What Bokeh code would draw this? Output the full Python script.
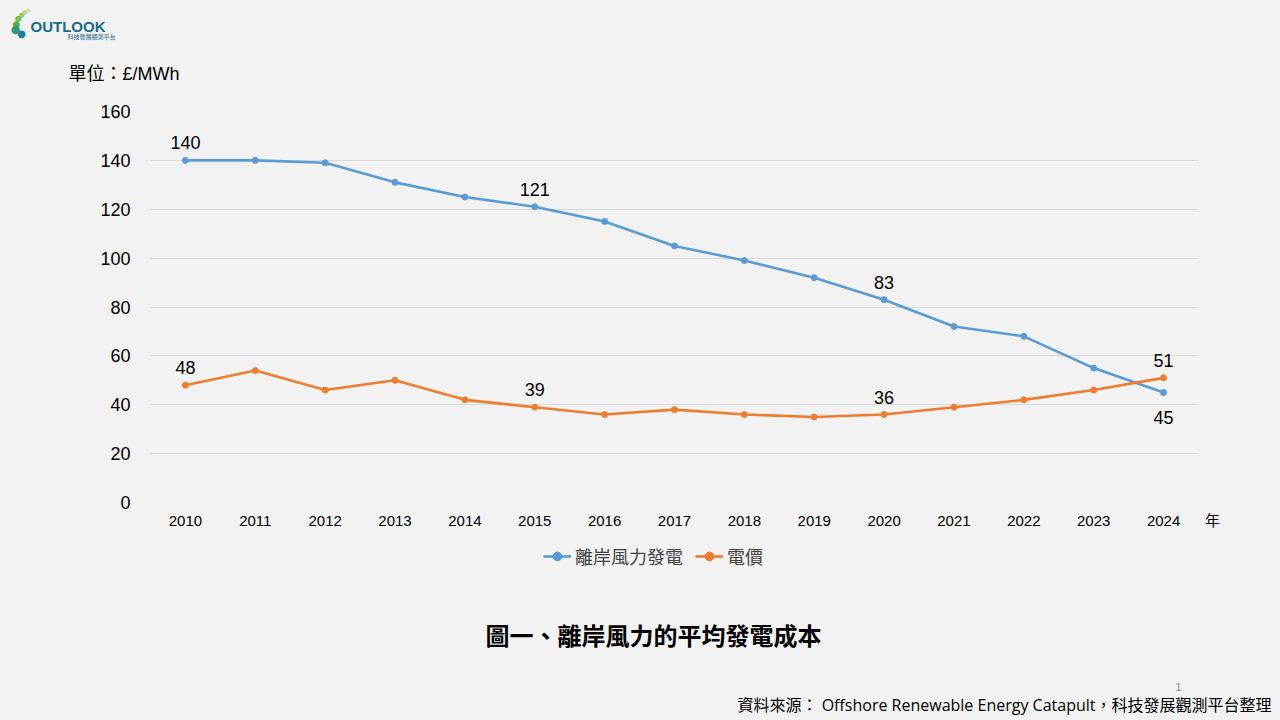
from bokeh.plotting import figure
from bokeh.models import Label, Legend, LegendItem, Range1d, FixedTicker, ColumnDataSource, Grid, Plot
from bokeh.layouts import column
from bokeh.embed import file_html
from bokeh.resources import INLINE

years = [2010, 2011, 2012, 2013, 2014, 2015, 2016, 2017, 2018, 2019, 2020, 2021, 2022, 2023, 2024]
wind_cost = [140, 140, 139, 131, 125, 121, 115, 105, 99, 92, 83, 72, 68, 55, 45]
power_price = [48, 54, 46, 50, 42, 39, 36, 38, 36, 35, 36, 39, 42, 46, 51]
y_ticks = [0, 20, 40, 60, 80, 100, 120, 140, 160]
wind_name = "離岸風力發電"
price_name = "電價"
x_unit = "年"
wind_labelled = [2010, 2015, 2020, 2024]
price_labelled = [2010, 2015, 2020, 2024]

BLUE = "#5b9bd5"
ORANGE = "#ed7d31"
BG = "#f2f2f2"
FONT = "Liberation Sans, Noto Sans CJK TC"
CJK = "Noto Sans CJK TC"

W, H = 1280, 720
HEAD_H = 103
MAIN_H = 437
FOOT_H = H - HEAD_H - MAIN_H

FL, FR = 150, 1198
FR_EXT = 1218
X0, X1 = years[0] - 0.5, years[-1] + 0.5
PX_PER_YEAR = (FR - FL) / (X1 - X0)
X1_EXT = X0 + (FR_EXT - FL) / PX_PER_YEAR
UNIT_TICK = years[-1] + (1212 - (FL + (years[-1] - X0) * PX_PER_YEAR)) / PX_PER_YEAR

HAS_ALIGN = "frame_align" in Plot.properties()


def blank(width, height):
    f = figure(width=width, height=height, output_backend="svg", toolbar_location=None,
               x_axis_type=None, y_axis_type=None, min_border=0,
               x_range=Range1d(0, width), y_range=Range1d(height, 0))
    f.background_fill_color = BG
    f.border_fill_color = BG
    f.outline_line_color = None
    f.xgrid.visible = False
    f.ygrid.visible = False
    if HAS_ALIGN:
        f.frame_align = False
    return f


def text(f, x, y, t, size, align="left", color="#000000", font=FONT, style="normal"):
    f.add_layout(Label(x=x, y=y, text=t, text_font=font, text_font_size=size,
                       text_align=align, text_baseline="middle", text_color=color,
                       text_font_style=style))


# ---------- header ----------
head = blank(W, HEAD_H)
dots = [(28, 9, "#c5e0a0", "5px"), (24, 11, "#b5d98b", "6px"), (21, 14, "#9acd6a", "7px"),
        (18, 18, "#7cbf4f", "8px"), (16, 23, "#5aab46", "9px"), (15, 29, "#2e9a7a", "11px"),
        (21, 33, "#1f7f8f", "10px")]
for dx, dy, c, s in dots:
    text(head, dx, dy, "●", s, align="center", color=c, font="DejaVu Sans")
text(head, 30, 26, "OUTLOOK", "15px", color="#1a6b8a", style="bold", font="Liberation Sans")
text(head, 67, 36, "科技發展觀測平台", "6px", color="#1a6b8a", font=CJK)
text(head, 68, 73, "單位：£/MWh", "18px")

# ---------- main chart ----------
p = figure(width=W, height=MAIN_H, output_backend="svg", toolbar_location=None,
           x_range=Range1d(X0, X1_EXT), y_range=Range1d(0, 160),
           min_border_left=FL, min_border_right=W - FR_EXT, min_border_top=8, min_border_bottom=38)
p.background_fill_color = BG
p.border_fill_color = BG
p.outline_line_color = None
if HAS_ALIGN:
    p.frame_align = False

p.xaxis.ticker = FixedTicker(ticks=years + [UNIT_TICK])
p.xaxis.major_label_overrides = {UNIT_TICK: x_unit}
p.yaxis.ticker = FixedTicker(ticks=y_ticks)
for ax in (p.xaxis, p.yaxis):
    ax.axis_line_color = None
    ax.major_tick_line_color = None
    ax.minor_tick_line_color = None
    ax.major_label_text_font = FONT
    ax.major_label_text_color = "#000000"
p.xaxis.major_label_text_font_size = "15px"
p.yaxis.major_label_text_font_size = "18px"
p.xaxis.major_label_standoff = 3
p.yaxis.major_label_standoff = 14
p.xgrid.grid_line_color = None
p.ygrid.grid_line_color = "#d9d9d9"
p.ygrid.grid_line_width = 1
if "cross_bounds" in Grid.properties():
    p.ygrid.cross_bounds = (X0, X1)

src = ColumnDataSource(dict(x=years, w=wind_cost, e=power_price))
p.line("x", "w", source=src, line_color=BLUE, line_width=2.6)
p.scatter("x", "w", source=src, size=6, color=BLUE)
p.line("x", "e", source=src, line_color=ORANGE, line_width=2.6)
p.scatter("x", "e", source=src, size=6, color=ORANGE)

for yr in wind_labelled:
    v = wind_cost[years.index(yr)]
    below = power_price[years.index(yr)] > v
    p.add_layout(Label(x=yr, y=v, text=str(v), text_font=FONT, text_font_size="18px",
                       text_align="center", text_baseline="top" if below else "bottom",
                       y_offset=-18 if below else 11, text_color="#000000"))
for yr in price_labelled:
    v = power_price[years.index(yr)]
    p.add_layout(Label(x=yr, y=v, text=str(v), text_font=FONT, text_font_size="18px",
                       text_align="center", text_baseline="bottom", y_offset=11,
                       text_color="#000000"))

# ---------- footer ----------
foot = blank(W, FOOT_H)
# legend renderers: same data, lying outside this strip's pixel ranges so only the legend shows
lw = foot.line("x", "w", source=src, line_color=BLUE, line_width=2.6)
sw = foot.scatter("x", "w", source=src, size=6, color=BLUE)
le = foot.line("x", "e", source=src, line_color=ORANGE, line_width=2.6)
se = foot.scatter("x", "e", source=src, size=6, color=ORANGE)
legend = Legend(items=[LegendItem(label=wind_name, renderers=[lw, sw]),
                       LegendItem(label=price_name, renderers=[le, se])],
                orientation="horizontal", location=(543, FOOT_H - 29),
                label_text_font=CJK, label_text_font_size="18px",
                background_fill_alpha=0, border_line_color=None, padding=0,
                glyph_width=28, glyph_height=22, spacing=12, label_standoff=4, margin=0)
foot.add_layout(legend)
text(foot, 653, 94, "圖一、離岸風力的平均發電成本", "24px", align="center", font=CJK, style="bold")
text(foot, 1178, 146, "1", "11px", align="center", color="#888888")
text(foot, 1271, 164, "資料來源： Offshore Renewable Energy Catapult，科技發展觀測平台整理", "16px",
     align="right", font="Open Sans, Noto Sans CJK TC")

layout = column(head, p, foot, spacing=0)
html = file_html(layout, INLINE)
html = html.replace("</head>", "<style>html,body{margin:0;padding:0;background:#f2f2f2;overflow:hidden}</style></head>", 1)
open("out.html", "w").write(html)
